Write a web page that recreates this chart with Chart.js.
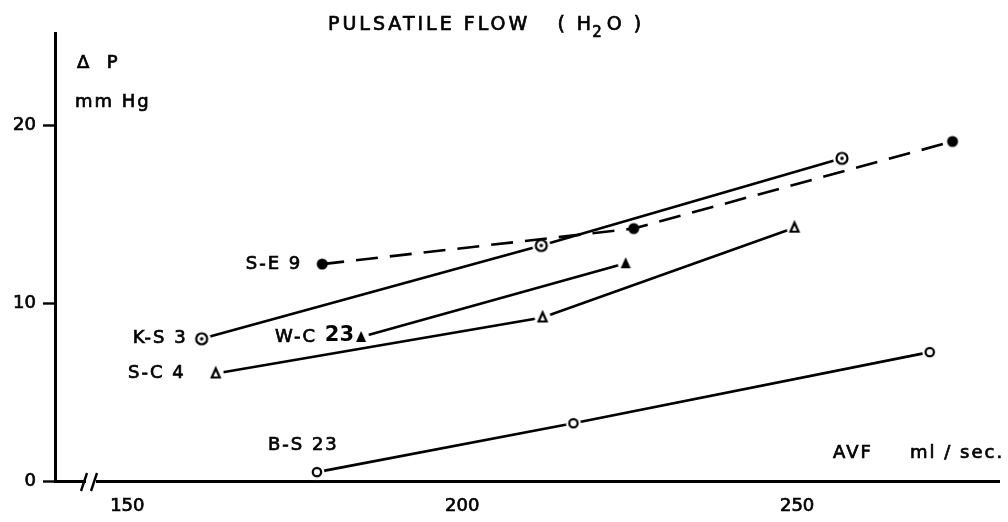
<!DOCTYPE html>
<html>
<head>
<meta charset="utf-8">
<script src="https://cdn.jsdelivr.net/npm/chart.js@4.4.1/dist/chart.umd.min.js"></script>
<style>
  html, body { margin: 0; padding: 0; background: #fff; }
  canvas { display: block; }
</style>
</head>
<body>
<canvas id="chart" width="1008" height="522"></canvas>
<script>
// values (AVF ml/sec vs delta P mm Hg)
const seriesNames = ['S-E 9', 'K-S 3', 'W-C 23', 'S-C 4', 'B-S 23'];
const se9X = [179.1, 225.6, 273.2];
const se9Y = [12.2, 14.2, 19.1];
const ks3X = [161.1, 211.8, 256.7];
const ks3Y = [8.0, 13.25, 18.15];
const wc23X = [184.9, 224.4];
const wc23Y = [8.1, 12.25];
const sc4X = [163.2, 212.0, 249.6];
const sc4Y = [6.05, 9.2, 14.25];
const bs23X = [178.3, 216.6, 269.8];
const bs23Y = [0.5, 3.25, 7.25];

const xTicks = [150, 200, 250];
const yTicks = [0, 10, 20];

const FONT = '"DejaVu Sans", sans-serif';
const INK = '#000';

function pts(xs, ys) { return xs.map((x, i) => ({ x: x, y: ys[i] })); }

// hand drawn markers, with a small white halo so lines stop short of them
function makeMarker(kind) {
    const s = 26, c = document.createElement('canvas');
    c.width = s; c.height = s;
    const g = c.getContext('2d');
    const m = s / 2;
    g.fillStyle = '#fff';
    g.strokeStyle = INK;
    g.lineWidth = 2.2;
    if (kind === 'dot') {
        g.fillStyle = INK;
        g.beginPath(); g.arc(m, m, 5.5, 0, Math.PI * 2); g.fill();
    } else if (kind === 'target') {
        g.beginPath(); g.arc(m, m, 9, 0, Math.PI * 2); g.fill();
        g.beginPath(); g.arc(m, m, 5.5, 0, Math.PI * 2); g.stroke();
        g.fillStyle = INK;
        g.beginPath(); g.arc(m, m, 1.8, 0, Math.PI * 2); g.fill();
    } else if (kind === 'tri') {
        g.beginPath(); g.arc(m, m, 8, 0, Math.PI * 2); g.fill();
        g.fillStyle = INK;
        g.beginPath(); g.moveTo(m, m - 6); g.lineTo(m + 5, m + 5); g.lineTo(m - 5, m + 5); g.closePath(); g.fill();
    } else if (kind === 'opentri') {
        g.beginPath(); g.arc(m, m, 8, 0, Math.PI * 2); g.fill();
        g.beginPath(); g.moveTo(m, m - 5); g.lineTo(m + 4, m + 4); g.lineTo(m - 4, m + 4); g.closePath(); g.stroke();
    } else {
        g.beginPath(); g.arc(m, m, 7.5, 0, Math.PI * 2); g.fill();
        g.beginPath(); g.arc(m, m, 4.2, 0, Math.PI * 2); g.stroke();
    }
    return c;
}

function ds(label, data, marker, dash) {
    return {
        label: label,
        data: data,
        showLine: true,
        borderColor: INK,
        borderWidth: 2.6,
        borderDash: dash || [],
        pointStyle: makeMarker(marker),
        pointRadius: 6,
        pointHoverRadius: 6,
        tension: 0
    };
}

// filled text with a thin stroke so it reads as heavy as the printed lettering
function inkText(ctx, s, x, y) {
    ctx.fillText(s, x, y);
    ctx.strokeText(s, x, y);
}

// text drawn on the canvas: title, axis names, series tags, axis break
const annotate = {
    id: 'annotate',
    afterDraw(chart) {
        const ctx = chart.ctx;
        const xs = chart.scales.x, ys = chart.scales.y;
        const px = v => xs.getPixelForValue(v);
        const py = v => ys.getPixelForValue(v);
        ctx.save();

        // axis break on x axis
        const ay = chart.chartArea.bottom;
        ctx.fillStyle = '#fff';
        ctx.fillRect(86, ay - 4, 10, 8);
        ctx.strokeStyle = INK;
        ctx.lineWidth = 2.4;
        ctx.beginPath();
        ctx.moveTo(81, ay + 10); ctx.lineTo(87, ay - 8);
        ctx.moveTo(91, ay + 10); ctx.lineTo(97, ay - 8);
        ctx.stroke();

        ctx.fillStyle = INK;
        ctx.lineWidth = 0.7;
        ctx.textBaseline = 'middle';

        // title with subscript
        ctx.letterSpacing = '3px';
        ctx.font = '19px ' + FONT;
        ctx.textAlign = 'left';
        let tx = 328;
        const t1 = 'PULSATILE FLOW   ( H';
        inkText(ctx, t1, tx, 25);
        tx += ctx.measureText(t1).width;
        ctx.font = '15px ' + FONT;
        inkText(ctx, '2', tx - 2, 33);
        tx += ctx.measureText('2').width;
        ctx.font = '19px ' + FONT;
        inkText(ctx, 'O )', tx, 25);

        ctx.letterSpacing = '2px';
        ctx.font = '18px ' + FONT;

        // y axis name
        inkText(ctx, '\u0394  P', 77, 63);
        inkText(ctx, 'mm Hg', 75, 102);

        // x axis name
        inkText(ctx, 'AVF', 833, 453);
        inkText(ctx, 'ml / sec.', 910, 453);

        // series tags next to first points
        ctx.textAlign = 'right';
        inkText(ctx, seriesNames[0], px(se9X[0]) - 20, py(se9Y[0]));
        inkText(ctx, seriesNames[1], px(ks3X[0]) - 14, py(ks3Y[0]));
        inkText(ctx, seriesNames[3], px(sc4X[0]) - 30, py(sc4Y[0]));

        const wcParts = seriesNames[2].split(' ');
        ctx.font = 'bold 21px ' + FONT;
        ctx.letterSpacing = '0px';
        const wx = px(wc23X[0]) - 7;
        ctx.fillText(wcParts[1], wx, py(wc23Y[0]) - 1);
        const w23 = ctx.measureText(wcParts[1]).width;
        ctx.letterSpacing = '2px';
        ctx.font = '18px ' + FONT;
        inkText(ctx, wcParts[0] + ' ', wx - w23, py(wc23Y[0]));

        ctx.textAlign = 'left';
        inkText(ctx, seriesNames[4], px(bs23X[0]) - 49, py(bs23Y[0]) - 27);

        ctx.restore();
    }
};

new Chart(document.getElementById('chart'), {
    type: 'scatter',
    data: {
        datasets: [
            ds(seriesNames[0], pts(se9X, se9Y), 'dot', [22, 12]),
            ds(seriesNames[1], pts(ks3X, ks3Y), 'target'),
            ds(seriesNames[2], pts(wc23X, wc23Y), 'tri'),
            ds(seriesNames[3], pts(sc4X, sc4Y), 'opentri'),
            ds(seriesNames[4], pts(bs23X, bs23Y), 'ring')
        ]
    },
    options: {
        responsive: false,
        animation: false,
        layout: { padding: { top: 33, right: 0, left: 0, bottom: 0 } },
        plugins: {
            legend: { display: false },
            tooltip: { enabled: false },
            title: { display: false }
        },
        scales: {
            x: {
                type: 'linear',
                min: 139.2,
                max: 280.2,
                afterBuildTicks: s => { s.ticks = xTicks.map(v => ({ value: v })); },
                afterFit: s => { s.height = 41; },
                grid: { display: false, drawTicks: false },
                border: { display: true, color: INK, width: 3 },
                ticks: { color: INK, padding: 15, font: { family: FONT, size: 18 }, maxRotation: 0, textStrokeColor: INK, textStrokeWidth: 0.7 }
            },
            y: {
                type: 'linear',
                min: 0,
                max: 25.2,
                afterBuildTicks: s => { s.ticks = yTicks.map(v => ({ value: v })); },
                afterFit: s => { s.width = 55; },
                grid: { display: true, drawOnChartArea: false, drawTicks: true, tickLength: 12, tickWidth: 2.4, tickColor: INK },
                border: { display: true, color: INK, width: 3 },
                ticks: { color: INK, padding: 7, font: { family: FONT, size: 18 }, textStrokeColor: INK, textStrokeWidth: 0.7 }
            }
        }
    },
    plugins: [annotate]
});
</script>
</body>
</html>
